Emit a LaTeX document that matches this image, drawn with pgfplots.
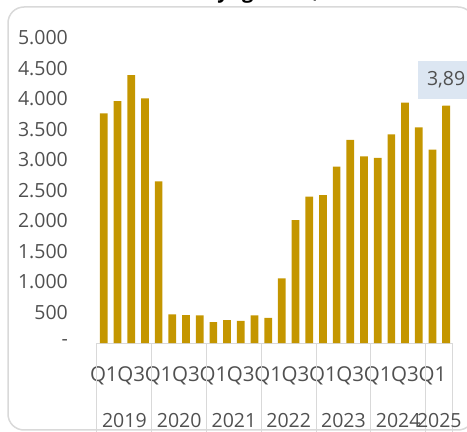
\documentclass[border=0pt]{standalone}
\usepackage{pgfplots}
\pgfplotsset{compat=1.18}
\usepackage{fontspec}
\setmainfont{Open Sans}
\definecolor{barcol}{RGB}{196,150,0}
\definecolor{txt}{RGB}{80,80,80}
\definecolor{gridc}{RGB}{217,217,217}
\definecolor{lblbg}{RGB}{220,230,242}
\begin{document}
\begin{tikzpicture}[x=1pt,y=1pt]
\useasboundingbox (0,0) rectangle (467,432);
\draw[gridc, line width=1.5pt, rounded corners=16pt] (8,2) rectangle (474,425);
\node[anchor=base east, font=\bfseries\fontsize{20}{24}\selectfont, inner sep=0pt] at (229,433) {Monthly};
\node[anchor=base west, font=\bfseries\fontsize{20}{24}\selectfont, inner sep=0pt] at (242,433) {growth, thousands};
\begin{axis}[
  at={(97pt,89pt)}, anchor=south west, scale only axis,
  width=356pt, height=305pt,
  xmin=0.5, xmax=26.5, ymin=0, ymax=5000,
  axis x line*=bottom, axis y line*=left,
  y axis line style={draw=none},
  x axis line style={gridc, line width=1pt},
  major tick length=0pt,
  /pgf/number format/assume math mode=true,
  tick label style={font=\fontsize{19.5}{22}\selectfont, text=txt, inner sep=0pt},
  ytick={0,500,...,5000},
  yticklabels={-\hspace{11pt},500,1.000,1.500,2.000,2.500,3.000,3.500,4.000,4.500,5.000},
  yticklabel style={anchor=east, xshift=-29pt},
  xtick={1,3,...,25},
  xticklabels={Q1,Q3,Q1,Q3,Q1,Q3,Q1,Q3,Q1,Q3,Q1,Q3,Q1},
  xticklabel style={anchor=base, yshift=-38.5pt, font=\fontsize{20.5}{22}\selectfont},
  ybar, bar shift=0pt, bar width=7.7pt,
  clip=false,
]
\addplot[fill=barcol, draw=none] coordinates {
(1,3766) (2,3967) (3,4393) (4,4010) (5,2650) (6,470) (7,459) (8,453)
(9,344) (10,377) (11,361) (12,453) (13,410) (14,1060) (15,2016) (16,2399)
(17,2426) (18,2891) (19,3328) (20,3060) (21,3033) (22,3420) (23,3940) (24,3536)
(25,3169) (26,3890)};
\addplot[fill=barcol, draw=none, nodes near coords={3{,}89},
  every node near coord/.append style={fill=lblbg, text=txt, font=\fontsize{19.5}{22}\selectfont,
    minimum width=56pt, minimum height=38pt, inner sep=0pt, anchor=south, yshift=7pt}]
  coordinates {(26,3890)};
\draw[gridc, line width=1pt] (axis cs:0.5,0) -- ++(0pt,-100pt);
\draw[gridc, line width=1pt] (axis cs:4.5,0) -- ++(0pt,-100pt);
\draw[gridc, line width=1pt] (axis cs:8.5,0) -- ++(0pt,-100pt);
\draw[gridc, line width=1pt] (axis cs:12.5,0) -- ++(0pt,-100pt);
\draw[gridc, line width=1pt] (axis cs:16.5,0) -- ++(0pt,-100pt);
\draw[gridc, line width=1pt] (axis cs:20.5,0) -- ++(0pt,-100pt);
\draw[gridc, line width=1pt] (axis cs:24.5,0) -- ++(0pt,-100pt);
\draw[gridc, line width=1pt] (axis cs:26.5,0) -- ++(0pt,-100pt);
\node[anchor=base, yshift=-84pt, text=txt, font=\fontsize{19.5}{22}\selectfont, inner sep=0pt] at (axis cs:2.5,0) {2019};
\node[anchor=base, yshift=-84pt, text=txt, font=\fontsize{19.5}{22}\selectfont, inner sep=0pt] at (axis cs:6.5,0) {2020};
\node[anchor=base, yshift=-84pt, text=txt, font=\fontsize{19.5}{22}\selectfont, inner sep=0pt] at (axis cs:10.5,0) {2021};
\node[anchor=base, yshift=-84pt, text=txt, font=\fontsize{19.5}{22}\selectfont, inner sep=0pt] at (axis cs:14.5,0) {2022};
\node[anchor=base, yshift=-84pt, text=txt, font=\fontsize{19.5}{22}\selectfont, inner sep=0pt] at (axis cs:18.5,0) {2023};
\node[anchor=base, yshift=-84pt, text=txt, font=\fontsize{19.5}{22}\selectfont, inner sep=0pt] at (axis cs:22.5,0) {2024};
\node[anchor=base, yshift=-84pt, text=txt, font=\fontsize{19.5}{22}\selectfont, inner sep=0pt] at (axis cs:25.5,0) {2025};
\end{axis}
\end{tikzpicture}
\end{document}
